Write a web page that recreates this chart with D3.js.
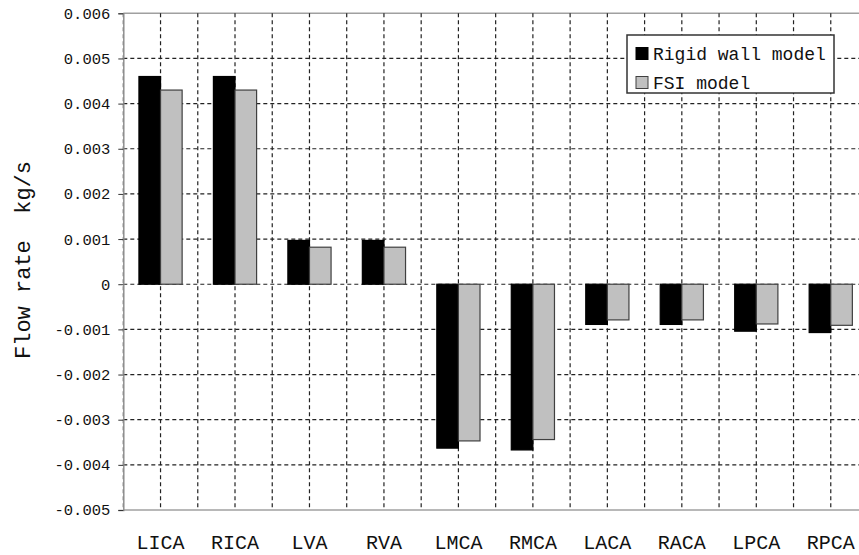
<!DOCTYPE html>
<html>
<head>
<meta charset="utf-8">
<script src="https://cdn.jsdelivr.net/npm/d3@7"></script>
<style>
  body { margin: 0; background: #fff; }
  text { font-family: "Liberation Mono", "DejaVu Sans Mono", monospace; fill: #111; }
</style>
</head>
<body>
<div id="chart"></div>
<script>
// Data
const categories = ["LICA", "RICA", "LVA", "RVA", "LMCA", "RMCA", "LACA", "RACA", "LPCA", "RPCA"];
const rigidWall = [0.0046, 0.0046, 0.00097, 0.00097, -0.00363, -0.00367, -0.00089, -0.00089, -0.00104, -0.00107];
const fsiModel = [0.0043, 0.0043, 0.00082, 0.00082, -0.00347, -0.00344, -0.00079, -0.00079, -0.00088, -0.00091];
const seriesNames = ["Rigid wall model", "FSI model"];
const yTicks = [0.006, 0.005, 0.004, 0.003, 0.002, 0.001, 0, -0.001, -0.002, -0.003, -0.004, -0.005];
const yTickLabels = ["0.006", "0.005", "0.004", "0.003", "0.002", "0.001", "0", "-0.001", "-0.002", "-0.003", "-0.004", "-0.005"];
const yTitle = "Flow rate  kg/s";

const width = 859;
const height = 555;
// plot runs off the right edge of the picture, like the original
const plot = { left: 123.3, right: 868, top: 13.3, bottom: 510 };

const svg = d3.select("#chart").append("svg")
    .attr("width", width)
    .attr("height", height);

const y = d3.scaleLinear()
    .domain([-0.005, 0.006])
    .range([plot.bottom, plot.top]);

// one band per category, bars centred on it
const x0 = d3.scaleBand()
    .domain(categories)
    .range([plot.left, plot.right])
    .paddingInner(0.42)
    .paddingOuter(0.21);

const x1 = d3.scaleBand()
    .domain(seriesNames)
    .range([0, x0.bandwidth()]);

// gridlines sit on category centres and boundaries
const xGrid = d3.scaleLinear()
    .domain([0, categories.length])
    .range([plot.left, plot.right]);

const color = d3.scaleOrdinal()
    .domain(seriesNames)
    .range(["#000000", "#c0c0c0"]);

// frame lines
svg.append("line")
    .attr("x1", plot.left).attr("x2", plot.right)
    .attr("y1", plot.top).attr("y2", plot.top)
    .attr("stroke", "#a0a0a0").attr("stroke-width", 1.5);
svg.append("line")
    .attr("x1", plot.left).attr("x2", plot.right)
    .attr("y1", plot.bottom).attr("y2", plot.bottom)
    .attr("stroke", "#a0a0a0").attr("stroke-width", 1.5);

// horizontal grid
svg.append("g")
    .selectAll("line")
    .data(yTicks.filter(d => d !== 0.006 && d !== -0.005))
    .enter()
    .append("line")
    .attr("x1", plot.left).attr("x2", plot.right)
    .attr("y1", d => y(d)).attr("y2", d => y(d))
    .attr("stroke", "#222")
    .attr("stroke-width", 1.2)
    .attr("stroke-dasharray", "4,3");

// vertical grid
svg.append("g")
    .selectAll("line")
    .data(d3.range(0, categories.length * 2 + 1).map(i => i / 2))
    .enter()
    .append("line")
    .attr("x1", d => xGrid(d)).attr("x2", d => xGrid(d))
    .attr("y1", plot.top).attr("y2", plot.bottom)
    .attr("stroke", d => d === 0 ? "#555" : "#222")
    .attr("stroke-width", 1.2)
    .attr("stroke-dasharray", "4,3");

// y axis
const yAxis = svg.append("g")
    .attr("transform", `translate(${plot.left},0)`)
    .call(d3.axisLeft(y)
        .tickValues(yTicks)
        .tickSize(5)
        .tickPadding(8)
        .tickFormat((d, i) => yTickLabels[i]));
yAxis.select(".domain").attr("stroke", "#909090").attr("stroke-width", 1.5);
yAxis.selectAll(".tick line").attr("stroke", "#333");
yAxis.selectAll(".tick text")
    .attr("font-size", "15.5px")
    .attr("fill", "#111")
    .style("font-family", "'Liberation Mono', monospace");

// bars
const groups = svg.append("g")
    .selectAll("g")
    .data(categories.map((c, i) => ({ cat: c, values: [rigidWall[i], fsiModel[i]] })))
    .enter()
    .append("g")
    .attr("transform", d => `translate(${x0(d.cat)},0)`);

groups.selectAll("rect")
    .data(d => d.values.map((v, j) => ({ name: seriesNames[j], value: v })))
    .enter()
    .append("rect")
    .attr("x", d => x1(d.name))
    .attr("width", x1.bandwidth())
    .attr("y", d => Math.min(y(d.value), y(0)))
    .attr("height", d => Math.abs(y(d.value) - y(0)))
    .attr("fill", d => color(d.name))
    .attr("stroke", d => d.name === seriesNames[1] ? "#404040" : "#000")
    .attr("stroke-width", 1.2);

// category labels
svg.append("g")
    .selectAll("text")
    .data(categories)
    .enter()
    .append("text")
    .attr("x", d => x0(d) + x0.bandwidth() / 2)
    .attr("y", 549)
    .attr("text-anchor", "middle")
    .attr("font-size", "20px")
    .text(d => d);

// y title
svg.append("text")
    .attr("transform", "translate(24,260) rotate(-90)")
    .attr("text-anchor", "middle")
    .attr("dominant-baseline", "central")
    .attr("font-size", "22px")
    .style("white-space", "pre")
    .text(yTitle);

// legend
const legend = svg.append("g").attr("transform", "translate(627,35)");
legend.append("rect")
    .attr("width", 207)
    .attr("height", 58)
    .attr("fill", "#fff")
    .attr("stroke", "#333")
    .attr("stroke-width", 1.5);

seriesNames.forEach((name, i) => {
    const row = legend.append("g").attr("transform", `translate(0,${i * 29})`);
    row.append("rect")
        .attr("x", 9).attr("y", 12.5)
        .attr("width", 12).attr("height", 12)
        .attr("fill", color(name))
        .attr("stroke", i === 0 ? "#000" : "#404040")
        .attr("stroke-width", 1);
    row.append("text")
        .attr("x", 26).attr("y", 24.5)
        .attr("font-size", "18px")
        .text(name);
});
</script>
</body>
</html>
